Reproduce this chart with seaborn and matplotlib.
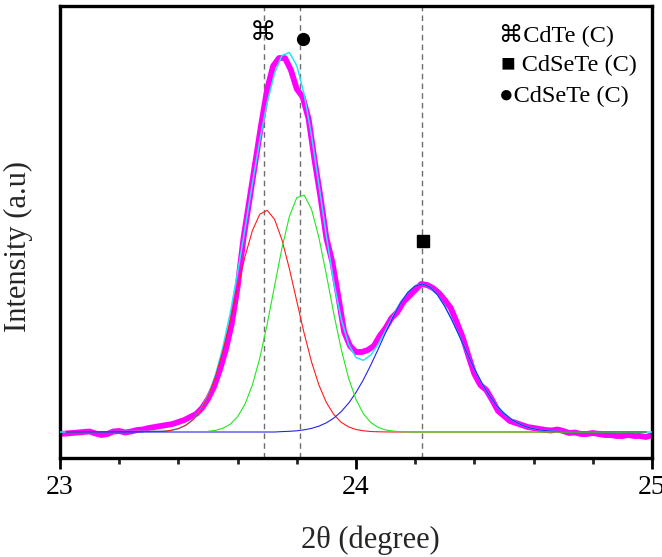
import matplotlib
matplotlib.use("Agg")
import matplotlib.pyplot as plt
import seaborn as sns
from matplotlib.ticker import MultipleLocator

# ---------------- data ----------------
# measured pattern (magenta)
data_x = [23.00, 23.02, 23.04, 23.06, 23.08, 23.10, 23.12, 23.14, 23.16, 23.18,
          23.20, 23.22, 23.24, 23.26, 23.28, 23.30, 23.32, 23.34, 23.36, 23.38,
          23.40, 23.42, 23.44, 23.46, 23.48, 23.50, 23.52, 23.54, 23.56, 23.58,
          23.60, 23.62, 23.64, 23.66, 23.68, 23.70, 23.72, 23.74, 23.76, 23.78,
          23.80, 23.82, 23.84, 23.86, 23.88, 23.90, 23.92, 23.94, 23.96, 23.98,
          24.00, 24.02, 24.04, 24.06, 24.08, 24.10, 24.12, 24.14, 24.16, 24.18,
          24.20, 24.22, 24.24, 24.26, 24.28, 24.30, 24.32, 24.34, 24.36, 24.38,
          24.40, 24.42, 24.44, 24.46, 24.48, 24.50, 24.52, 24.54, 24.56, 24.58,
          24.60, 24.62, 24.64, 24.66, 24.68, 24.70, 24.72, 24.74, 24.76, 24.78,
          24.80, 24.82, 24.84, 24.86, 24.88, 24.90, 24.92, 24.94, 24.96, 24.98,
          25.00]
data_y = [-2, -1.5, -1, -0.5, 0, 0.5, -1.5, -3, -2, 0.5,
          1, -0.5, 0.5, 2, 2.5, 4, 5, 6, 7, 8,
          10, 12, 15, 18, 24, 33, 45, 62, 82, 108,
          145, 194, 232, 270, 308, 343, 366, 374, 374, 362,
          343, 335, 313, 272, 235, 194, 170, 136, 100, 86,
          80, 80, 82, 86, 96, 104, 114, 120, 130, 136,
          142, 148, 147, 144, 139, 132, 124, 110, 95, 76,
          58, 47, 42, 32, 21, 16, 11, 9, 7, 5,
          4, 3, 2, 1.5, 2.5, 1, -1, -0.5, -2, -2,
          -1, -2, -3, -3, -4, -4, -3, -4, -4, -5,
          -3]

# fitted curves sampled positions
grid_x = [23.35, 23.375, 23.4, 23.425, 23.45, 23.475, 23.5, 23.525, 23.55, 23.575,
          23.6, 23.625, 23.65, 23.675, 23.7, 23.725, 23.75, 23.775, 23.8, 23.825,
          23.85, 23.875, 23.9, 23.925, 23.95, 23.975, 24.0, 24.025, 24.05, 24.075,
          24.1, 24.125, 24.15, 24.175, 24.2, 24.225, 24.25, 24.275, 24.3, 24.325,
          24.35, 24.375, 24.4, 24.425, 24.45, 24.475, 24.5, 24.525, 24.55, 24.575,
          24.6, 24.625, 24.65, 24.675, 24.7]
# cumulative fit (cyan)
fit_y = [0.7, 1.6, 3.4, 6.7, 12.5, 22.0, 36.4, 56.9, 84.5, 118.9,
         159.2, 203.2, 248.5, 291.7, 329.6, 358.8, 376.6, 379.5, 366.3, 337.6,
         295.9, 246.6, 195.8, 149.7, 112.9, 87.7, 74.5, 71.7, 77.0, 87.7,
         101.5, 115.9, 129.1, 139.6, 146.3, 148.0, 144.9, 137.3, 125.7, 111.4,
         95.4, 79.0, 63.3, 49.0, 36.7, 26.6, 18.6, 12.6, 8.3, 5.2,
         3.2, 1.9, 1.1, 0.6, 0.3]
# CdTe peak component (red)
red_y = [0.7, 1.6, 3.4, 6.7, 12.4, 21.7, 35.7, 55.3, 80.8, 111.1,
         143.9, 175.4, 201.4, 217.8, 221.7, 212.6, 192.0, 163.2, 130.7, 98.5,
         69.9, 46.8, 29.4, 17.5, 9.7, 5.1, 2.5, 1.2, 0.5, 0.2,
         0.1, 0, 0, 0, 0, 0, 0, 0, 0, 0,
         0, 0, 0, 0, 0, 0, 0, 0, 0, 0,
         0, 0, 0, 0, 0]
# CdSeTe peak component (green), starting at 23.5
green_y = [0.7, 1.6, 3.7, 7.8,
           15.3, 27.8, 47.1, 73.9, 107.9, 146.2, 184.2, 215.6, 234.4, 236.9,
           222.4, 193.9, 157.2, 118.3, 82.8, 53.8, 32.5, 18.2, 9.5, 4.6,
           2.1, 0.9, 0.3, 0.1, 0, 0, 0, 0, 0, 0,
           0, 0, 0, 0, 0, 0, 0, 0, 0, 0,
           0, 0, 0, 0, 0]
# CdSeTe peak component (blue)
blue_y = [0, 0, 0, 0, 0, 0, 0, 0, 0, 0,
          0, 0, 0, 0, 0, 0, 0.4, 0.7, 1.2, 2.2,
          3.6, 5.9, 9.2, 13.9, 20.4, 28.8, 39.5, 52.3, 67.0, 82.9,
          99.3, 115.0, 128.8, 139.5, 146.1, 148.0, 144.9, 137.3, 125.7, 111.4,
          95.4, 79.0, 63.3, 49.0, 36.7, 26.6, 18.6, 12.6, 8.3, 5.2,
          3.2, 1.9, 1.1, 0.6, 0.3]

peak_lines = [23.689, 23.811, 24.223]
legend_labels = ["\u2318CdTe (C)", "\u25A0 CdSeTe (C)", "\u25CFCdSeTe (C)"]
x_ticks = [23, 24, 25]

# ---------------- style ----------------
sns.set_theme(style="ticks")
plt.rcParams['font.family'] = ['Liberation Serif', 'DejaVu Sans']
plt.rcParams['axes.linewidth'] = 2.4

fig = plt.figure(figsize=(6.62, 5.57), dpi=100)
ax = fig.add_axes([60 / 662, 1 - 458 / 557, 592 / 662, 452 / 557])

sns.lineplot(x=data_x, y=data_y, ax=ax, color='#FF00FF', linewidth=4.2,
             estimator=None, sort=False, zorder=2)
sns.lineplot(x=[23.0] + grid_x + [25.0], y=[0] + fit_y + [0], ax=ax,
             color='#22E6FF', linewidth=1.1, estimator=None, sort=False, zorder=3)
sns.lineplot(x=[23.02] + grid_x + [24.98], y=[0] + red_y + [0], ax=ax,
             color='#FF1A1A', linewidth=0.8, estimator=None, sort=False, zorder=4)
sns.lineplot(x=[23.02] + grid_x + [24.98], y=[0] + blue_y + [0], ax=ax,
             color='#2424E8', linewidth=0.8, estimator=None, sort=False, zorder=5)
sns.lineplot(x=grid_x[6:] + [24.98], y=green_y + [0], ax=ax,
             color='#22E622', linewidth=0.8, estimator=None, sort=False, zorder=6)

for p in peak_lines:
    ax.axvline(p, color='#6E6E6E', linewidth=1.0, linestyle=(0, (4, 3)), zorder=1)

# peak markers
ax.text(23.686, 399, "\u2318", fontsize=19, family=['DejaVu Sans'],
        ha='center', va='center', color='black', zorder=7)
ax.plot([23.821], [393], marker='o', markersize=8.5, color='black',
        linestyle='none', zorder=7)
ax.plot([24.226], [191], marker='s', markersize=8.6, color='black',
        linestyle='none', zorder=7)

# text legend
leg_y_px = [41, 71.5, 102]
leg_x_px = [499, 501, 499]
for lab, xp, yp in zip(legend_labels, leg_x_px, leg_y_px):
    fig.text(xp / 662, 1 - yp / 557, lab, fontsize=17.5,
             family=['Liberation Serif', 'DejaVu Sans'],
             ha='left', va='baseline', color='black')

ax.set_xlim(23, 25)
ax.set_ylim(-26, 426)
ax.set_xticks(x_ticks)
ax.set_xticklabels([str(t) for t in x_ticks])
ax.xaxis.set_minor_locator(MultipleLocator(0.2))
ax.set_yticks([])
ax.tick_params(axis='x', which='major', length=8, width=2, direction='out',
               labelsize=20, pad=4, colors='black')
ax.tick_params(axis='x', which='minor', length=4.5, width=2, direction='out')
for s in ax.spines.values():
    s.set_color('black')
    s.set_visible(True)

ax.set_xlabel("2\u03b8 (degree)", fontsize=22)
ax.set_ylabel("Intensity (a.u)", fontsize=22)
ax.xaxis.set_label_coords((370 - 60) / 592, -(540 - 458) / 452)
ax.yaxis.set_label_coords(-(60 - 18) / 592, (458 - 247) / 452)
ax.xaxis.label.set_verticalalignment('center')
ax.yaxis.label.set_verticalalignment('center')

fig.savefig("out.png", dpi=100)
